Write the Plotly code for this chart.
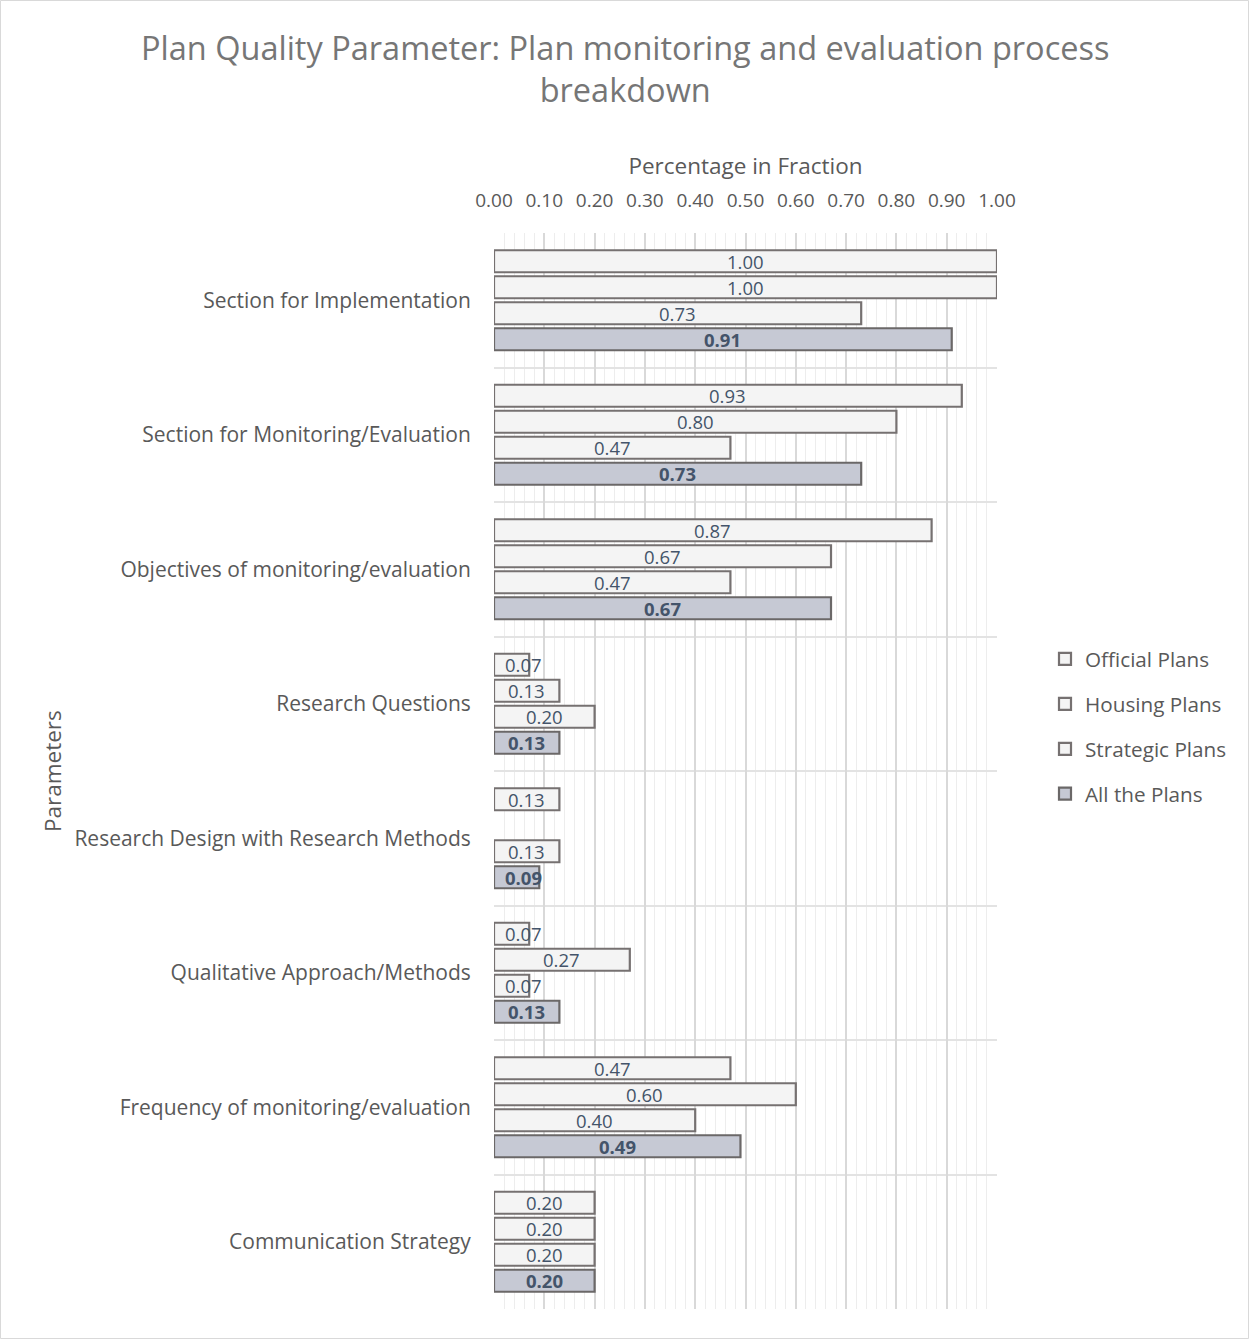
import plotly.graph_objects as go

# Categories (top to bottom) and the four plan series
categories = [
    "Section for Implementation",
    "Section for Monitoring/Evaluation",
    "Objectives of monitoring/evaluation",
    "Research Questions",
    "Research Design with Research Methods",
    "Qualitative Approach/Methods",
    "Frequency of monitoring/evaluation",
    "Communication Strategy",
]
official_plans = [1.00, 0.93, 0.87, 0.07, 0.13, 0.07, 0.47, 0.20]
housing_plans = [1.00, 0.80, 0.67, 0.13, None, 0.27, 0.60, 0.20]
strategic_plans = [0.73, 0.47, 0.47, 0.20, 0.13, 0.07, 0.40, 0.20]
all_plans = [0.91, 0.73, 0.67, 0.13, 0.09, 0.13, 0.49, 0.20]

series_names = ["Official Plans", "Housing Plans", "Strategic Plans", "All the Plans"]
series_values = [official_plans, housing_plans, strategic_plans, all_plans]
x_ticks = [0.0, 0.1, 0.2, 0.3, 0.4, 0.5, 0.6, 0.7, 0.8, 0.9, 1.0]

FONT = "Open Sans"
LABEL_COLOR = "#44546a"
TEXT_GRAY = "#595959"

# Plot-area geometry (pixels)
W, H = 1249, 1339
L, R, T, B = 494, 252, 233, 30
plot_w = W - L - R
plot_h = H - T - B


def py_to_paper(py):
    return (T + plot_h - py) / plot_h


def px_to_paper(px):
    return (px - L) / plot_w


BARGAP = 0.227
BARGROUPGAP = 0.154

fills = ["#f4f4f4", "#f4f4f4", "#f4f4f4", "#c6c9d4"]
outlines = ["#767171", "#767171", "#767171", "#6b6868"]

y_pos = list(range(len(categories)))

fig = go.Figure()
for i, (name, vals) in enumerate(zip(series_names, series_values)):
    fig.add_trace(go.Bar(
        name=name,
        x=vals,
        y=y_pos,
        orientation="h",
        marker=dict(color=fills[i], line=dict(color=outlines[i], width=2.2)),
        legendgroup=name,
        hoverinfo="x+name",
    ))

# Value labels, centred in each bar but kept clear of the axis for short bars
n = len(series_names)
slot = (1 - BARGAP) / n
min_center = 29 / plot_w
annotations = []
for i, vals in enumerate(series_values):
    offset = -(1 - BARGAP) / 2 + (i + 0.5) * slot
    for j, v in enumerate(vals):
        if v is None:
            continue
        txt = f"{v:.2f}"
        if i == n - 1:
            txt = f"<b>{txt}</b>"
        annotations.append(dict(
            x=max(v / 2, min_center), y=j + offset, xref="x", yref="y",
            text=txt, showarrow=False,
            font=dict(family=FONT, size=18.5, color=LABEL_COLOR),
            xanchor="center", yanchor="middle",
        ))

# Chart title
annotations.append(dict(
    x=px_to_paper(W / 2), y=py_to_paper(68), xref="paper", yref="paper",
    text="Plan Quality Parameter: Plan monitoring and evaluation process<br>breakdown",
    showarrow=False, align="center",
    font=dict(family=FONT, size=32.5, color="#767676"),
    xanchor="center", yanchor="middle",
))

# Vertical axis title
annotations.append(dict(
    x=px_to_paper(52), y=0.5, xref="paper", yref="paper",
    text="Parameters", textangle=-90, showarrow=False,
    font=dict(family=FONT, size=22.5, color=TEXT_GRAY),
    xanchor="center", yanchor="middle",
))

fig.update_layout(
    width=W, height=H,
    margin=dict(l=L, r=R, t=T, b=B, autoexpand=False),
    paper_bgcolor="white", plot_bgcolor="white",
    barmode="group", bargap=BARGAP, bargroupgap=BARGROUPGAP,
    font=dict(family=FONT, color=TEXT_GRAY),
    xaxis=dict(
        side="top", range=[0, 1], tickvals=x_ticks,
        ticktext=[f"{t:.2f}" for t in x_ticks],
        tickfont=dict(family=FONT, size=19, color=TEXT_GRAY),
        ticks="outside", ticklen=17, tickcolor="rgba(0,0,0,0)",
        showgrid=True, gridcolor="#d9d9d9", gridwidth=2,
        minor=dict(dtick=0.02, showgrid=True, gridcolor="#ededed", gridwidth=1),
        zeroline=False, showline=False,
        title=dict(text="Percentage in Fraction", standoff=6,
                   font=dict(family=FONT, size=22.5, color=TEXT_GRAY)),
        fixedrange=True,
    ),
    yaxis=dict(
        range=[len(categories) - 0.5, -0.5],
        tickvals=y_pos, ticktext=categories,
        tickfont=dict(family=FONT, size=21, color=TEXT_GRAY),
        ticks="outside", ticklen=18, tickcolor="rgba(0,0,0,0)",
        showgrid=False, zeroline=False, showline=False,
        minor=dict(tick0=0.5, dtick=1, showgrid=True, gridcolor="#e3e3e3", gridwidth=2),
        fixedrange=True,
    ),
    legend=dict(
        x=px_to_paper(1045), y=py_to_paper(639),
        xanchor="left", yanchor="top",
        font=dict(family=FONT, size=20.7, color=TEXT_GRAY),
        tracegroupgap=15, itemwidth=30,
        bgcolor="rgba(0,0,0,0)",
    ),
    annotations=annotations,
    shapes=[dict(
        type="rect", xref="paper", yref="paper",
        x0=px_to_paper(0.5), x1=px_to_paper(W - 0.5),
        y0=py_to_paper(H - 0.5), y1=py_to_paper(0.5),
        line=dict(color="#d9d9d9", width=1), fillcolor="rgba(0,0,0,0)",
        layer="below",
    )],
)

fig.write_html("out.html")
